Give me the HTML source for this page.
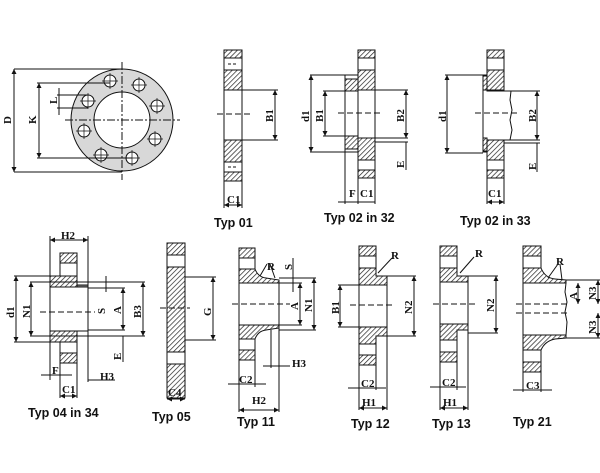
<!DOCTYPE html>
<html><head><meta charset="utf-8"><style>
html,body{margin:0;padding:0;background:#fff;}
svg{display:block}
.l{font-family:"Liberation Serif",serif;font-weight:bold;font-size:11px;fill:#111}
.t{font-family:"Liberation Sans",sans-serif;font-weight:bold;font-size:12.5px;fill:#111}
</style></head><body>
<svg width="600" height="473" viewBox="0 0 600 473" xmlns="http://www.w3.org/2000/svg">
<defs>
<pattern id="h" patternUnits="userSpaceOnUse" width="3.5" height="3.5" patternTransform="rotate(45)">
<rect width="3.5" height="3.5" fill="#fff"/><line x1="0" y1="0" x2="0" y2="3.5" stroke="#222" stroke-width="1.4"/>
</pattern>
<marker id="a" viewBox="0 0 6 6" refX="6" refY="3" markerWidth="5" markerHeight="5" orient="auto-start-reverse"><path d="M0,0L6,3L0,6z" fill="#111"/></marker>
</defs>
<g stroke="#111" stroke-width="1" fill="none">
<!-- Circle view -->
<circle cx="122" cy="120" r="51" fill="#d8d8d8"/>
<circle cx="122" cy="120" r="28" fill="#fff"/>
<g fill="#fff">
<circle cx="110" cy="81" r="6"/><circle cx="139" cy="85" r="6"/><circle cx="157" cy="106" r="6"/><circle cx="155" cy="139" r="6"/>
<circle cx="132" cy="158" r="6"/><circle cx="101" cy="155" r="6"/><circle cx="84" cy="131" r="6"/><circle cx="88" cy="101" r="6"/>
</g>
<g stroke-width="0.7">
<path d="M102,81h16M110,73v16M131,85h16M139,77v16M149,106h16M157,98v16M147,139h16M155,131v16M124,158h16M132,150v16M93,155h16M101,147v16M76,131h16M84,123v16M80,101h16M88,93v16"/>
</g>
<line x1="122" y1="62" x2="122" y2="180" stroke-dasharray="8,2,2,2"/>
<line x1="65" y1="120" x2="180" y2="120" stroke-dasharray="8,2,2,2"/>
<line x1="14" y1="69" x2="122" y2="69"/><line x1="14" y1="172" x2="122" y2="172"/>
<line x1="14" y1="69" x2="14" y2="172" marker-start="url(#a)" marker-end="url(#a)"/>
<line x1="37" y1="83" x2="110" y2="83"/><line x1="37" y1="158" x2="132" y2="158"/>
<line x1="39" y1="83" x2="39" y2="158" marker-start="url(#a)" marker-end="url(#a)"/>
<line x1="57" y1="95" x2="88" y2="95"/><line x1="57" y1="108" x2="88" y2="108"/>
<line x1="59" y1="88" x2="59" y2="115"/>
<!-- Typ 01 -->
<rect x="224" y="50" width="18" height="8" fill="url(#h)"/>
<rect x="224" y="58" width="18" height="12" fill="#fff"/>
<rect x="224" y="70" width="18" height="20" fill="url(#h)"/>
<rect x="224" y="90" width="18" height="50" fill="#fff"/>
<rect x="224" y="140" width="18" height="22" fill="url(#h)"/>
<rect x="224" y="162" width="18" height="10" fill="#fff"/>
<rect x="224" y="172" width="18" height="9" fill="url(#h)"/>
<line x1="217" y1="114" x2="250" y2="114" stroke-dasharray="6,3"/>
<line x1="228" y1="64" x2="238" y2="64" stroke-dasharray="3,2"/><line x1="228" y1="167" x2="238" y2="167" stroke-dasharray="3,2"/>
<line x1="242" y1="90" x2="278" y2="90"/><line x1="242" y1="140" x2="278" y2="140"/>
<line x1="275" y1="90" x2="275" y2="140" marker-start="url(#a)" marker-end="url(#a)"/>
<line x1="224" y1="181" x2="224" y2="208"/><line x1="242" y1="181" x2="242" y2="208"/>
<line x1="224" y1="205" x2="242" y2="205" marker-start="url(#a)" marker-end="url(#a)"/>
<!-- Typ 02 in 32 -->
<rect x="358" y="50" width="17" height="8" fill="url(#h)"/>
<rect x="358" y="58" width="17" height="12" fill="#fff"/>
<rect x="358" y="70" width="17" height="20" fill="url(#h)"/>
<rect x="358" y="90" width="17" height="48" fill="#fff"/>
<rect x="358" y="138" width="17" height="22" fill="url(#h)"/>
<rect x="358" y="160" width="17" height="10" fill="#fff"/>
<rect x="358" y="170" width="17" height="8" fill="url(#h)"/>
<rect x="345" y="75" width="13" height="77" fill="#fff"/>
<rect x="345" y="79" width="13" height="12" fill="url(#h)"/>
<rect x="345" y="136" width="13" height="13" fill="url(#h)"/>
<line x1="338" y1="113" x2="382" y2="113" stroke-dasharray="6,3"/>
<line x1="310" y1="75" x2="345" y2="75"/><line x1="310" y1="152" x2="345" y2="152"/>
<line x1="311" y1="75" x2="311" y2="152" marker-start="url(#a)" marker-end="url(#a)"/>
<line x1="323" y1="91" x2="345" y2="91"/><line x1="323" y1="136" x2="345" y2="136"/>
<line x1="325" y1="91" x2="325" y2="136" marker-start="url(#a)" marker-end="url(#a)"/>
<line x1="375" y1="90" x2="408" y2="90"/><line x1="375" y1="138" x2="408" y2="138"/><line x1="375" y1="142" x2="408" y2="142"/>
<line x1="406" y1="90" x2="406" y2="138" marker-start="url(#a)" marker-end="url(#a)"/>
<line x1="406" y1="142" x2="406" y2="170"/>
<line x1="345" y1="152" x2="345" y2="204"/><line x1="358" y1="178" x2="358" y2="204"/><line x1="375" y1="178" x2="375" y2="204"/>
<line x1="338" y1="202" x2="375" y2="202"/>
<!-- Typ 02 in 33 -->
<rect x="487" y="50" width="17" height="8" fill="url(#h)"/>
<rect x="487" y="58" width="17" height="12" fill="#fff"/>
<rect x="487" y="70" width="17" height="20" fill="url(#h)"/>
<rect x="487" y="138" width="17" height="22" fill="url(#h)"/>
<rect x="487" y="160" width="17" height="10" fill="#fff"/>
<rect x="487" y="170" width="17" height="8" fill="url(#h)"/>
<path d="M483,75 L487,75 L487,91 L511,91 L510,100 L512,110 L510,120 L512,130 L510,140 L487,140 L487,152 L483,152 Z" fill="#fff"/>
<rect x="483" y="76" width="4" height="14" fill="url(#h)"/>
<rect x="483" y="138" width="4" height="13" fill="url(#h)"/>
<line x1="475" y1="113" x2="520" y2="113" stroke-dasharray="6,3"/>
<line x1="445" y1="75" x2="483" y2="75"/><line x1="445" y1="153" x2="483" y2="153"/>
<line x1="447" y1="75" x2="447" y2="153" marker-start="url(#a)" marker-end="url(#a)"/>
<line x1="511" y1="91" x2="540" y2="91"/><line x1="504" y1="140" x2="540" y2="140"/><line x1="504" y1="143" x2="540" y2="143"/>
<line x1="537" y1="91" x2="537" y2="140" marker-start="url(#a)" marker-end="url(#a)"/>
<line x1="537" y1="143" x2="537" y2="172"/>
<line x1="487" y1="178" x2="487" y2="204"/><line x1="504" y1="178" x2="504" y2="204"/>
<line x1="487" y1="202" x2="504" y2="202" marker-start="url(#a)" marker-end="url(#a)"/>
<!-- Typ 04 in 34 -->
<rect x="60" y="253" width="17" height="10" fill="url(#h)"/>
<rect x="60" y="263" width="17" height="13" fill="#fff"/>
<rect x="60" y="331" width="17" height="10" fill="url(#h)"/>
<rect x="60" y="341" width="17" height="12" fill="#fff"/>
<rect x="60" y="353" width="17" height="10" fill="url(#h)"/>
<rect x="50" y="276" width="27" height="11" fill="url(#h)"/>
<rect x="50" y="331" width="27" height="11" fill="url(#h)"/>
<rect x="50" y="287" width="38" height="44" fill="#fff"/>
<rect x="77" y="285" width="11" height="2" fill="#888"/>
<line x1="40" y1="312" x2="95" y2="312" stroke-dasharray="6,3"/>
<line x1="14" y1="276" x2="50" y2="276"/><line x1="14" y1="342" x2="50" y2="342"/>
<line x1="16" y1="276" x2="16" y2="342" marker-start="url(#a)" marker-end="url(#a)"/>
<line x1="30" y1="282" x2="145" y2="282"/><line x1="30" y1="336" x2="145" y2="336"/>
<line x1="31" y1="282" x2="31" y2="336" marker-start="url(#a)" marker-end="url(#a)"/>
<line x1="88" y1="288" x2="125" y2="288"/><line x1="88" y1="330" x2="125" y2="330"/>
<line x1="123" y1="288" x2="123" y2="330" marker-start="url(#a)" marker-end="url(#a)"/>
<line x1="143" y1="282" x2="143" y2="336" marker-start="url(#a)" marker-end="url(#a)"/>
<line x1="106" y1="276" x2="106" y2="292"/><line x1="123" y1="336" x2="123" y2="362"/>
<line x1="50" y1="236" x2="50" y2="380"/><line x1="88" y1="236" x2="88" y2="382"/>
<line x1="50" y1="240" x2="88" y2="240" marker-start="url(#a)" marker-end="url(#a)"/>
<line x1="60" y1="363" x2="60" y2="398"/><line x1="77" y1="363" x2="77" y2="398"/>
<line x1="60" y1="396" x2="77" y2="396" marker-start="url(#a)" marker-end="url(#a)"/>
<line x1="41" y1="375" x2="72" y2="375"/><line x1="88" y1="380" x2="115" y2="380"/>
<!-- Typ 05 -->
<rect x="167" y="243" width="18" height="12" fill="url(#h)"/>
<rect x="167" y="255" width="18" height="12" fill="#fff"/>
<rect x="167" y="267" width="18" height="85" fill="url(#h)"/>
<rect x="167" y="352" width="18" height="12" fill="#fff"/>
<rect x="167" y="364" width="18" height="34" fill="url(#h)"/>
<line x1="160" y1="308" x2="190" y2="308" stroke-dasharray="6,3"/>
<line x1="185" y1="277" x2="216" y2="277"/><line x1="185" y1="340" x2="216" y2="340"/>
<line x1="213" y1="277" x2="213" y2="340" marker-start="url(#a)" marker-end="url(#a)"/>
<line x1="167" y1="399" x2="185" y2="399" marker-start="url(#a)" marker-end="url(#a)"/>
<!-- Typ 11 -->
<rect x="239" y="248" width="16" height="10" fill="url(#h)"/>
<rect x="239" y="258" width="16" height="11" fill="#fff"/>
<path d="M239,269 L255,269 Q258,277 266,278 L279,280 L279,283 L239,283 Z" fill="url(#h)"/>
<path d="M239,325 L279,325 L279,328 L266,330 Q258,331 255,339 L239,339 Z" fill="url(#h)"/>
<rect x="239" y="283" width="40" height="42" fill="#fff"/>
<rect x="239" y="339" width="16" height="11" fill="#fff"/>
<rect x="239" y="350" width="16" height="10" fill="url(#h)"/>
<line x1="232" y1="304" x2="290" y2="304" stroke-dasharray="6,3"/>
<line x1="279" y1="278" x2="316" y2="278"/><line x1="279" y1="330" x2="316" y2="330"/>
<line x1="314" y1="278" x2="314" y2="330" marker-start="url(#a)" marker-end="url(#a)"/>
<line x1="279" y1="283" x2="302" y2="283"/><line x1="279" y1="325" x2="302" y2="325"/>
<line x1="300" y1="283" x2="300" y2="325" marker-start="url(#a)" marker-end="url(#a)"/>
<line x1="293" y1="258" x2="293" y2="292"/>
<line x1="267" y1="264" x2="260" y2="276"/><line x1="270" y1="264" x2="275" y2="278"/>
<line x1="239" y1="360" x2="239" y2="412"/><line x1="255" y1="360" x2="255" y2="387"/><line x1="271" y1="330" x2="271" y2="368"/><line x1="279" y1="328" x2="279" y2="412"/>
<line x1="228" y1="384" x2="266" y2="384"/>
<line x1="239" y1="410" x2="279" y2="410" marker-start="url(#a)" marker-end="url(#a)"/>
<line x1="263" y1="366" x2="290" y2="366"/>
<!-- Typ 12 -->
<rect x="359" y="246" width="17" height="10" fill="url(#h)"/>
<rect x="359" y="256" width="17" height="12" fill="#fff"/>
<path d="M359,268 L376,268 L376,276 L387,276 L387,285 L359,285 Z" fill="url(#h)"/>
<rect x="359" y="285" width="28" height="42" fill="#fff"/>
<path d="M359,327 L387,327 L387,336 L376,336 L376,344 L359,344 Z" fill="url(#h)"/>
<rect x="359" y="344" width="17" height="11" fill="#fff"/>
<rect x="359" y="355" width="17" height="10" fill="url(#h)"/>
<line x1="350" y1="305" x2="395" y2="305" stroke-dasharray="6,3"/>
<line x1="338" y1="285" x2="359" y2="285"/><line x1="338" y1="327" x2="359" y2="327"/>
<line x1="340" y1="285" x2="340" y2="327" marker-start="url(#a)" marker-end="url(#a)"/>
<line x1="387" y1="276" x2="416" y2="276"/><line x1="387" y1="336" x2="416" y2="336"/>
<line x1="414" y1="276" x2="414" y2="336" marker-start="url(#a)" marker-end="url(#a)"/>
<line x1="392" y1="258" x2="378" y2="273"/>
<line x1="359" y1="365" x2="359" y2="410"/><line x1="376" y1="365" x2="376" y2="390"/><line x1="387" y1="336" x2="387" y2="410"/>
<line x1="348" y1="388" x2="386" y2="388"/>
<line x1="359" y1="408" x2="387" y2="408" marker-start="url(#a)" marker-end="url(#a)"/>
<!-- Typ 13 -->
<rect x="440" y="246" width="17" height="10" fill="url(#h)"/>
<rect x="440" y="256" width="17" height="12" fill="#fff"/>
<path d="M440,268 L457,268 L457,276 L468,276 L468,282 L440,282 Z" fill="url(#h)"/>
<rect x="440" y="282" width="28" height="42" fill="#fff"/>
<path d="M440,324 L468,324 L468,330 L457,330 L457,340 L440,340 Z" fill="url(#h)"/>
<rect x="440" y="340" width="17" height="12" fill="#fff"/>
<rect x="440" y="352" width="17" height="10" fill="url(#h)"/>
<line x1="433" y1="304" x2="476" y2="304" stroke-dasharray="6,3"/>
<line x1="468" y1="276" x2="498" y2="276"/><line x1="468" y1="333" x2="498" y2="333"/>
<line x1="496" y1="276" x2="496" y2="333" marker-start="url(#a)" marker-end="url(#a)"/>
<line x1="474" y1="257" x2="460" y2="273"/>
<line x1="440" y1="362" x2="440" y2="410"/><line x1="457" y1="362" x2="457" y2="390"/><line x1="468" y1="330" x2="468" y2="410"/>
<line x1="430" y1="387" x2="466" y2="387"/>
<line x1="440" y1="408" x2="468" y2="408" marker-start="url(#a)" marker-end="url(#a)"/>
<!-- Typ 21 -->
<rect x="523" y="246" width="18" height="10" fill="url(#h)"/>
<rect x="523" y="256" width="18" height="12" fill="#fff"/>
<path d="M523,268 L541,268 Q545,278 555,279 L566,280 L566,283 L523,283 Z" fill="url(#h)"/>
<path d="M523,283 L566,283 L565,292 L567,302 L565,312 L567,322 L566,335 L523,335 Z" fill="#fff"/>
<path d="M523,335 L566,335 L566,338 L555,339 Q545,341 541,350 L523,350 Z" fill="url(#h)"/>
<rect x="523" y="350" width="18" height="12" fill="#fff"/>
<rect x="523" y="362" width="18" height="10" fill="url(#h)"/>
<line x1="516" y1="304" x2="570" y2="304" stroke-dasharray="6,3"/>
<line x1="516" y1="313" x2="570" y2="313" stroke-dasharray="6,3"/>
<line x1="566" y1="280" x2="600" y2="280"/><line x1="566" y1="338" x2="600" y2="338"/>
<line x1="598" y1="280" x2="598" y2="304" marker-start="url(#a)" marker-end="url(#a)"/>
<line x1="598" y1="313" x2="598" y2="338" marker-start="url(#a)" marker-end="url(#a)"/>
<line x1="578" y1="283" x2="578" y2="304" marker-start="url(#a)" marker-end="url(#a)"/>
<line x1="558" y1="264" x2="548" y2="278"/><line x1="560" y1="264" x2="562" y2="280"/>
<line x1="523" y1="372" x2="523" y2="392"/><line x1="541" y1="372" x2="541" y2="392"/>
<line x1="513" y1="390" x2="552" y2="390"/>
</g>
<!-- labels -->
<g class="l">
<text transform="translate(11,124) rotate(-90)">D</text>
<text transform="translate(36,124) rotate(-90)">K</text>
<text transform="translate(57,104) rotate(-90)">L</text>
<text transform="translate(273,122) rotate(-90)">B1</text>
<text x="227" y="203">C1</text>
<text transform="translate(309,122) rotate(-90)">d1</text>
<text transform="translate(323,122) rotate(-90)">B1</text>
<text transform="translate(404,122) rotate(-90)">B2</text>
<text transform="translate(404,168) rotate(-90)">E</text>
<text x="349" y="197">F</text><text x="360" y="197">C1</text>
<text transform="translate(446,122) rotate(-90)">d1</text>
<text transform="translate(536,122) rotate(-90)">B2</text>
<text transform="translate(536,170) rotate(-90)">E</text>
<text x="488" y="197">C1</text>
<text x="61" y="239">H2</text>
<text transform="translate(14,318) rotate(-90)">d1</text>
<text transform="translate(30,318) rotate(-90)">N1</text>
<text transform="translate(105,314) rotate(-90)">S</text>
<text transform="translate(121,314) rotate(-90)">A</text>
<text transform="translate(141,318) rotate(-90)">B3</text>
<text transform="translate(121,360) rotate(-90)">E</text>
<text x="52" y="374">F</text><text x="62" y="393">C1</text><text x="100" y="380">H3</text>
<text transform="translate(211,316) rotate(-90)">G</text>
<text x="168" y="396">C4</text>
<text x="267" y="270">R</text>
<text transform="translate(292,270) rotate(-90)">S</text>
<text transform="translate(298,310) rotate(-90)">A</text>
<text transform="translate(312,312) rotate(-90)">N1</text>
<text x="239" y="383">C2</text><text x="252" y="404">H2</text><text x="292" y="367">H3</text>
<text transform="translate(339,314) rotate(-90)">B1</text>
<text transform="translate(412,314) rotate(-90)">N2</text>
<text x="391" y="259">R</text>
<text x="361" y="387">C2</text><text x="362" y="406">H1</text>
<text transform="translate(494,312) rotate(-90)">N2</text>
<text x="475" y="257">R</text>
<text x="442" y="386">C2</text><text x="443" y="406">H1</text>
<text x="556" y="265">R</text>
<text transform="translate(577,300) rotate(-90)">A</text>
<text transform="translate(596,300) rotate(-90)">N3</text>
<text transform="translate(596,334) rotate(-90)">N3</text>
<text x="526" y="389">C3</text>
</g>
<g class="t">
<text x="214" y="227">Typ 01</text>
<text x="324" y="222">Typ 02 in 32</text>
<text x="460" y="225">Typ 02 in 33</text>
<text x="28" y="417">Typ 04 in 34</text>
<text x="152" y="421">Typ 05</text>
<text x="237" y="426">Typ 11</text>
<text x="351" y="428">Typ 12</text>
<text x="432" y="428">Typ 13</text>
<text x="513" y="426">Typ 21</text>
</g>
</svg>
</body></html>
